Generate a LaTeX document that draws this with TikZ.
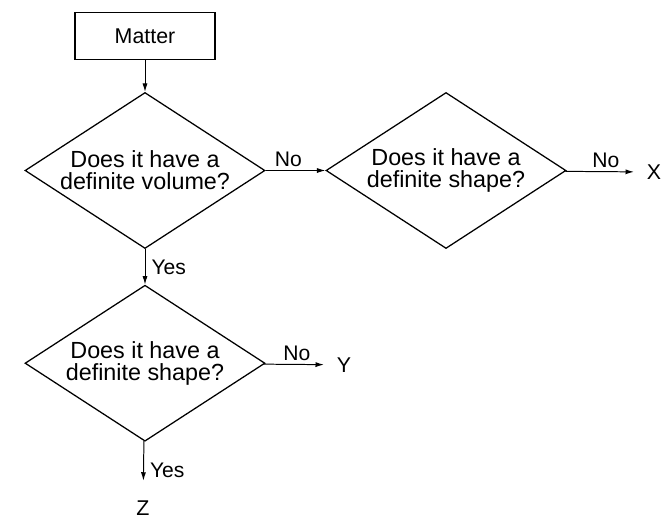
\documentclass[tikz,border=0pt]{standalone}
\usepackage{fontspec}
\setmainfont{Liberation Sans}
\usepackage{tikz}
\usetikzlibrary{shapes,arrows.meta,positioning,calc}

\tikzset{
    question/.style={draw, diamond, line width=0.9pt, inner sep=0pt, aspect=1.55,
        minimum width=6cm, minimum height=3.9cm, align=center,
        font=\fontsize{16.6}{15.6}\selectfont},
    startbox/.style={draw, rectangle, line width=0.9pt, minimum width=3.5cm,
        minimum height=1.175cm, font=\fontsize{15.2}{17}\selectfont},
    result/.style={inner sep=0pt, font=\fontsize{15.2}{17}\selectfont},
    flow/.style={-{Latex[length=6pt,width=3.6pt]}, line width=0.7pt},
    lbl/.style={font=\fontsize{15}{17}\selectfont}
}

\begin{document}
\begin{tikzpicture}
            \useasboundingbox (0,0) rectangle (16.8,-13.1);

            % Start
            \node[startbox] (matter) at (3.625,-0.9) {Matter};

            % Questions
            \node[question] (vol) at (3.625,-4.2625) {Does it have a\\definite volume?};
            \node[question] (shpa) at (11.15,-4.2625) {Does it have a\\definite shape?};
            \node[question] (shpb) at (3.625,-9.08) {Does it have a\\definite shape?};

            % Outcomes
            \node[result] (x) at (16.35,-4.3) {X};
            \node[result] (y) at (8.6,-9.12) {Y};
            \node[result] (z) at (3.575,-12.7) {Z};

            % Arrows
            \draw[flow] (matter) -- (vol);
            \draw[flow] (vol) -- (shpa) node[lbl, pos=0.38, above, yshift=-1pt] {No};
            \draw[flow, shorten >=9pt] (shpa) -- (x) node[lbl, pos=0.5, above, yshift=-1pt] {No};
            \draw[flow] (vol) -- (shpb) node[lbl, midway, right, xshift=1pt] {Yes};
            \draw[flow, shorten >=9pt] (shpb) -- (y) node[lbl, pos=0.45, above, yshift=-1pt] {No};
            \draw[flow, shorten >=14pt] (shpb) -- (z) node[lbl, midway, right, xshift=1pt] {Yes};
        \end{tikzpicture}
\end{document}
